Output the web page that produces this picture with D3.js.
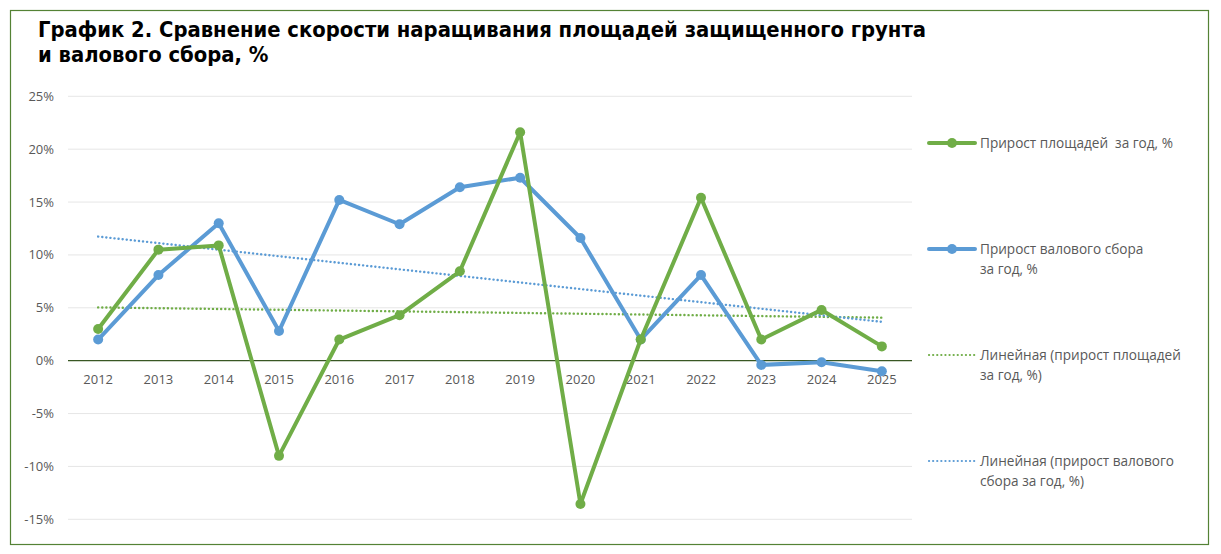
<html>
  <head>
    <meta charset="utf-8">
    <title>График 2</title>
    <script src="https://d3js.org/d3.v7.min.js"></script>
    <style>
      body { margin: 0; background: #fff; }
      text { font-family: "Open Sans", "Noto Sans", sans-serif; }
      text.title { font-family: "DejaVu Sans Condensed", "DejaVu Sans", sans-serif; }
      text.leg { white-space: pre; }
    </style>
  </head>
  <body>
    <svg id="chart" width="1221" height="554"></svg>
    <script>
      // data
      const years = ["2012", "2013", "2014", "2015", "2016", "2017", "2018",
                     "2019", "2020", "2021", "2022", "2023", "2024", "2025"];
      const areaGrowth = [3.0, 10.5, 10.9, -9.0, 2.0, 4.3, 8.45, 21.6, -13.55, 2.0, 15.4, 2.0, 4.8, 1.35];
      const harvestGrowth = [2.0, 8.1, 13.0, 2.8, 15.2, 12.9, 16.4, 17.3, 11.6, 2.0, 8.1, -0.4, -0.15, -1.0];
      const yTicks = [-15, -10, -5, 0, 5, 10, 15, 20, 25];
      const titleLines = ["График 2. Сравнение скорости наращивания площадей защищенного грунта",
                          "и валового сбора, %"];
      const legendLabels = [
        ["Прирост площадей  за год, %"],
        ["Прирост валового сбора", "за год, %"],
        ["Линейная (прирост площадей", "за год, %)"],
        ["Линейная (прирост валового", "сбора за год, %)"]
      ];

      const green = "#70ad47", blue = "#5b9bd5";

      let svg = d3.select("svg#chart");

      // outer frame
      svg.append("rect")
         .attr("x", 10.5).attr("y", 10.5)
         .attr("width", 1198).attr("height", 534)
         .attr("fill", "none")
         .attr("stroke", "#548235")
         .attr("stroke-width", 1.2);

      // title
      svg.selectAll("text.title").data(titleLines)
         .join("text")
         .attr("class", "title")
         .attr("x", 38)
         .attr("y", (d, i) => 37 + i * 25)
         .attr("font-weight", "bold")
         .attr("font-size", 21.8)
         .attr("fill", "#000")
         .text(d => d);

      // scales
      const x = d3.scaleBand().domain(years).range([68, 912]);
      const y = d3.scaleLinear().domain([-15, 25]).range([519.3, 96.3]);
      const cx = d => x(d) + x.bandwidth() / 2;

      // gridlines
      svg.selectAll("line.grid").data(yTicks.filter(t => t !== 0))
         .join("line")
         .attr("class", "grid")
         .attr("x1", 68).attr("x2", 912)
         .attr("y1", d => y(d)).attr("y2", d => y(d))
         .attr("stroke", "#e6e6e6")
         .attr("stroke-width", 1);

      // y axis labels
      svg.selectAll("text.ytick").data(yTicks)
         .join("text")
         .attr("class", "ytick")
         .attr("x", 54)
         .attr("y", d => y(d) + 4.5)
         .attr("text-anchor", "end")
         .attr("font-size", 13)
         .attr("fill", "#595959")
         .text(d => d + "%");

      // zero line
      svg.append("line")
         .attr("x1", 68).attr("x2", 912)
         .attr("y1", y(0)).attr("y2", y(0))
         .attr("stroke", "#385723")
         .attr("stroke-width", 1.3);

      // x labels
      svg.selectAll("text.xtick").data(years)
         .join("text")
         .attr("class", "xtick")
         .attr("x", d => cx(d))
         .attr("y", y(0) + 23)
         .attr("text-anchor", "middle")
         .attr("font-size", 13)
         .attr("fill", "#595959")
         .text(d => d);

      // linear trend (least squares over category index)
      function trend(vals) {
        const n = vals.length;
        const xs = d3.range(n);
        const mx = d3.mean(xs), my = d3.mean(vals);
        const b = d3.sum(xs, i => (i - mx) * (vals[i] - my)) / d3.sum(xs, i => (i - mx) * (i - mx));
        const a = my - b * mx;
        return [[0, a], [n - 1, a + b * (n - 1)]];
      }

      const trendLine = d3.line()
        .x(d => cx(years[d[0]]))
        .y(d => y(d[1]));

      svg.append("path")
         .datum(trend(areaGrowth))
         .attr("d", trendLine)
         .attr("fill", "none")
         .attr("stroke", green)
         .attr("stroke-width", 2.4)
         .attr("stroke-dasharray", "0.1,4")
         .attr("stroke-linecap", "round");

      svg.append("path")
         .datum(trend(harvestGrowth))
         .attr("d", trendLine)
         .attr("fill", "none")
         .attr("stroke", blue)
         .attr("stroke-width", 2.4)
         .attr("stroke-dasharray", "0.1,4")
         .attr("stroke-linecap", "round");

      // series lines
      const line = d3.line()
        .x((d, i) => cx(years[i]))
        .y(d => y(d));

      const series = [
        { values: harvestGrowth, color: blue },
        { values: areaGrowth, color: green }
      ];

      for (let s of series) {
        svg.append("path")
           .datum(s.values)
           .attr("d", line)
           .attr("fill", "none")
           .attr("stroke", s.color)
           .attr("stroke-width", 4)
           .attr("stroke-linejoin", "round");

        svg.append("g").selectAll("circle").data(s.values)
           .join("circle")
           .attr("cx", (d, i) => cx(years[i]))
           .attr("cy", d => y(d))
           .attr("r", 5)
           .attr("fill", s.color);
      }

      // legend
      const legendY = [143, 249, 355, 461];
      const legendColors = [green, blue, green, blue];
      const legend = svg.selectAll("g.legend").data(legendLabels)
         .join("g")
         .attr("class", "legend")
         .attr("transform", (d, i) => "translate(0," + legendY[i] + ")");

      legend.append("line")
         .attr("x1", 929).attr("x2", 975)
         .attr("y1", 0).attr("y2", 0)
         .attr("stroke", (d, i) => legendColors[i])
         .attr("stroke-width", (d, i) => i < 2 ? 4 : 2.2)
         .attr("stroke-dasharray", (d, i) => i < 2 ? null : "0.1,4")
         .attr("stroke-linecap", "round");

      legend.filter((d, i) => i < 2)
         .append("circle")
         .attr("cx", 952).attr("cy", 0).attr("r", 5)
         .attr("fill", (d, i) => legendColors[i]);

      legend.selectAll("text").data(d => d)
         .join("text")
         .attr("class", "leg")
         .attr("x", 980)
         .attr("y", (d, i) => 4.5 + i * 20.5)
         .attr("font-size", 13.6)
         .attr("fill", "#595959")
         .text(d => d);
    </script>
  </body>
</html>
